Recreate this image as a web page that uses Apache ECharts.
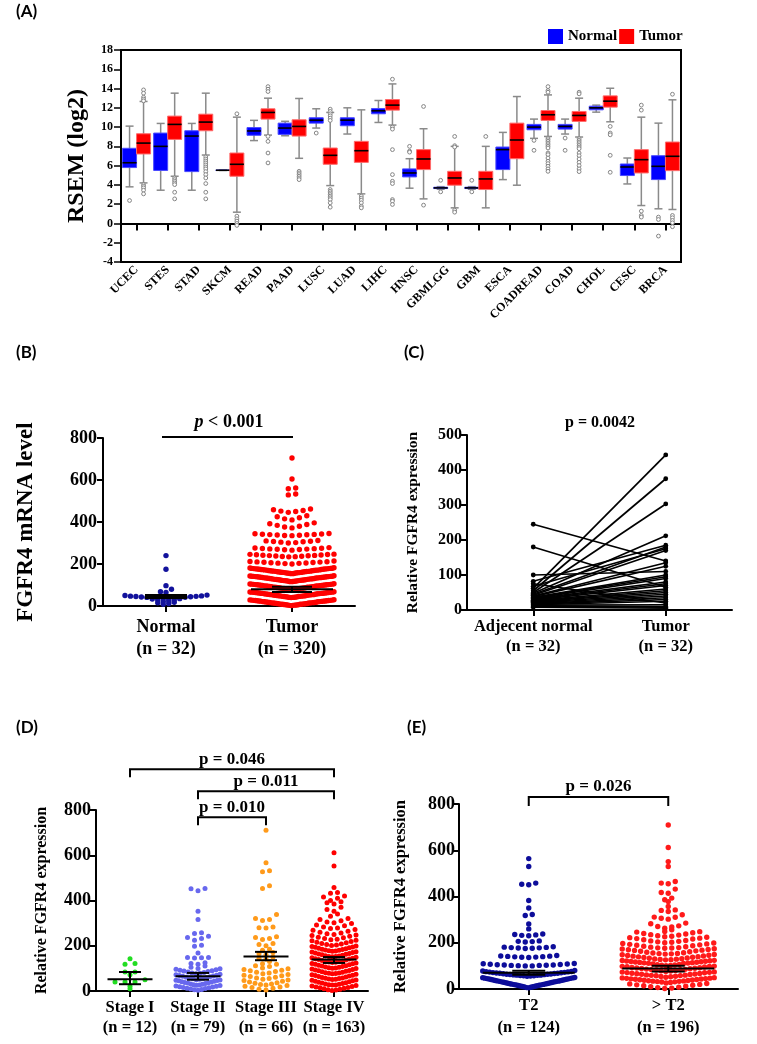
<!DOCTYPE html>
<html><head><meta charset="utf-8">
<script src="https://cdn.jsdelivr.net/npm/echarts@6/dist/echarts.min.js"></script>
<style>html,body{margin:0;padding:0;background:#fff}#c{width:757px;height:1044px}</style>
</head><body><div id="c"></div>
<script>
// ================= DATA =================
// ---- Panel A : box plots (RSEM log2) ----
const aCategories = ['UCEC','STES','STAD','SKCM','READ','PAAD','LUSC','LUAD','LIHC','HNSC','GBMLGG','GBM','ESCA','COADREAD','COAD','CHOL','CESC','BRCA'];
// [lower whisker, Q1, median, Q3, upper whisker]
const aNormalBox = [
  [3.8, 5.8, 6.3, 7.8, 10.1],
  [3.45, 5.5, 8.0, 9.38, 10.38],
  [3.45, 5.38, 9.07, 9.62, 10.38],
  [5.5, 5.5, 5.52, 5.55, 5.55],
  [8.6, 9.15, 9.6, 9.95, 10.7],
  [9.1, 9.24, 9.9, 10.41, 10.6],
  [9.9, 10.41, 10.72, 10.97, 11.9],
  [9.28, 10.14, 10.72, 10.97, 12.0],
  [10.48, 11.38, 11.69, 11.93, 12.76],
  [3.66, 4.83, 5.24, 5.66, 6.72],
  [3.55, 3.62, 3.69, 3.76, 3.82],
  [3.55, 3.62, 3.69, 3.76, 3.82],
  [4.55, 5.59, 7.66, 7.93, 9.45],
  [8.83, 9.72, 10.0, 10.28, 10.83],
  [9.28, 9.79, 10.07, 10.28, 10.83],
  [11.55, 11.79, 12.0, 12.17, 12.28],
  [4.1, 4.97, 5.86, 6.17, 6.79],
  [1.52, 4.55, 5.93, 7.03, 10.41]
];
const aTumorBox = [
  [4.21, 7.21, 8.34, 9.31, 12.66],
  [4.9, 8.72, 10.28, 11.14, 13.52],
  [7.1, 9.62, 10.52, 11.34, 13.52],
  [1.17, 4.9, 6.14, 7.31, 11.03],
  [9.17, 10.83, 11.52, 11.9, 13.0],
  [6.76, 9.07, 10.07, 10.76, 12.97],
  [3.93, 6.14, 7.07, 7.83, 11.52],
  [3.07, 6.34, 7.55, 8.52, 11.79],
  [10.21, 11.76, 12.28, 12.86, 14.48],
  [2.55, 5.59, 6.69, 7.66, 9.83],
  [1.62, 3.97, 4.72, 5.41, 8.0],
  [1.62, 3.52, 4.62, 5.41, 8.0],
  [3.97, 6.72, 8.66, 10.41, 13.17],
  [9.03, 10.69, 11.28, 11.72, 13.34],
  [8.97, 10.59, 11.21, 11.62, 13.0],
  [10.55, 12.07, 12.69, 13.24, 14.03],
  [1.86, 5.24, 6.62, 7.66, 11.03],
  [1.45, 5.48, 6.97, 8.45, 12.83]
];
const aNormalOutliers = [[2.38],[],[],[],[],[],[9.38],[],[],[8.0,7.5,7.4],[4.48,3.28],[4.48,3.28],[],[8.62,7.59],[8.86,7.59],[],[],[0.66,0.41,-1.31]];
const aTumorOutliers = [
  [13.86,13.52,13.1,12.9,12.72,4.03,3.86,3.69,3.45,3.07],
  [4.72,4.55,4.38,4.2,4.03,3.24,2.55],
  [6.9,6.69,6.48,6.28,6.07,5.86,5.66,5.38,5.07,4.72,4.14,3.24,2.55],
  [11.38,0.76,0.48,0.24,0.0,-0.2],
  [14.2,13.93,13.69,9.03,8.52,7.31,6.28],
  [5.41,5.24,5.07,4.9,4.72,4.55],
  [11.86,11.62,11.38,11.17,10.93,10.69,3.52,3.34,3.17,3.0,2.83,2.66,2.48,2.14,1.69],
  [2.83,2.62,2.41,2.14,1.79,1.62],
  [14.97,10.0,9.79,7.66,5.07,4.38,4.14,2.48,2.31,1.97],
  [12.14,1.9],
  [9.03,8.07,7.93,1.38,1.17],
  [9.03],
  [],
  [14.2,13.79,13.62,8.86,8.69,8.52,8.34,8.17,8.0,7.83,7.31,7.14,6.79,6.45,6.21,5.93,5.66,5.41],
  [13.62,13.45,8.79,8.62,8.45,8.28,8.1,7.93,7.76,7.31,7.03,6.69,6.34,6.0,5.66,5.38],
  [10.07,9.38,9.2,7.07,5.31],
  [12.28,11.76,1.28,0.83,0.66],
  [13.41,0.83,0.59,0.31,0.07,-0.34]
];

// ---- Panel B : FGFR4 mRNA level (values grouped in the rows of the dot plot) ----
const bCategories = ['Normal\n(n = 32)', 'Tumor\n(n = 320)'];
const bNormalRows = [[240],[175],[97],[64,68,80],
  [36,37,38,39,40,40,41,42,43,44,45,46,47,48,50,52],
  [22,25,28,30,33,35],[8,12,15,18]];
const bTumorRows = [[705],[605],[558,562],[529,533],[446,450,452,455,458,462],[410,415,420,425,430],
  [372,376,380,384,388,392,396],
  [335,336,337,338,339,340,341,342,343,344,345],
  [300,302,304,306,307,308,310,312],
  [266,268,269,270,271,272,273,274,275,276,278],
  [234,235,236,237,238,239,240,241,242,243,244,245,246,247],
  [200,202,203,204,205,206,207,208,209,210,211,212,214],
  [154,155,155,156,157,157,158,159,159,160,160,161,162,162,163,163,164,165,165,166,166,167,168,168,169,169,170,171,171,172,172,173,174,174,175,175,176,176,177,177,178,178,179,179,180,181,182],
  [116,117,117,118,119,119,120,121,121,122,122,123,124,124,125,125,126,127,127,128,128,129,130,130,131,131,132,133,133,134,134,135,136,136,137,137,138,138,139,139,140,140,141,141,142,142,143,144],
  [78,79,79,80,81,81,82,82,83,84,84,85,86,86,87,87,88,89,89,90,90,91,92,92,93,93,94,95,95,96,96,97,98,98,99,99,100,100,101,101,102,102,103,103,104,104,105,106],
  [40,41,41,42,43,43,44,45,45,46,46,47,48,48,49,49,50,51,51,52,52,53,54,54,55,55,56,57,57,58,58,59,60,60,61,61,62,62,63,63,64,64,65,65,66,66,67,68],
  [2,3,3,4,5,5,6,6,7,8,8,9,9,10,11,11,12,12,13,14,14,15,15,16,17,17,18,18,19,20,20,21,21,22,23,23,24,24,25,25,26,26,27,27,28,28,29,30]
];
// [category, centre line, lower bar, upper bar]
const bSummary = [[0, 44, 38, 52], [1, 80, 67, 92]];
const bBrackets = [[0, 1, 805]];
const bBracketText = ['{i|p} < 0.001'];

// ---- Panel C : paired samples ----
const cCategories = ['Adjecent normal\n(n = 32)', 'Tumor\n(n = 32)'];
const cNormal = [245,180,100,82,75,68,62,55,50,48,45,42,40,38,36,35,33,32,30,28,27,25,24,22,20,18,17,15,14,12,10,8];
const cTumor  = [140,65,110,185,20,175,443,375,303,212,180,170,135,125,100,95,90,80,75,70,60,55,50,45,40,35,30,25,15,10,8,5];

// ---- Panel D : stages ----
const dCategories = ['Stage I\n(n = 12)', 'Stage II\n(n = 79)', 'Stage III\n(n = 66)', 'Stage IV\n(n = 163)'];
const dStage1Rows = [[10],[21],[40,40,40,50],[72],[84,84],[118,121],[143]];
const dStage2Rows = [[443,452,453],[353],[316],[254,258],[224,232,236,242],[198,202],[168],[146,147,148,148],[118,121,125],[100,105,110],
  [76,78,80,82,84,86,88,90,92,94,96,98],
  [50,52,54,55,57,59,61,63,65,66,68,70,72,74],
  [25,27,28,30,31,33,35,36,38,40,41,43,45,46,48,49],
  [3,5,7,9,11,12,14,16,18,19,21,22,24]];
const dStage3Rows = [[711],[567],[527,531],[453,465],[312,316,320,338],[278,280,283],[228,232,236,240],[200,205,210],[180,185],[160,165,170],[140,145,150],[120,130],
  [102,108,112,118],
  [76,80,83,86,89,92,95,98],
  [52,55,58,61,64,67,70,73],
  [26,29,31,34,37,40,43,46,49],
  [4,8,12,15,18,21,24]];
const dStage4Rows = [[611],[552],[457],[432,435],[400,410,415,420],[385,390,395],[352,360,370],[330,340],[302,305,310,316,320],[276,279,283,288,292,298],
  [250,253,256,260,264,268,272],
  [226,229,232,235,238,242,245,248],
  [201,203,205,208,210,213,216,219,222,224],
  [176,177,178,180,181,183,185,187,189,191,193,195,197,199],
  [151,152,153,155,156,158,160,162,164,166,168,170,172,174],
  [126,127,128,130,131,133,135,137,139,141,143,145,147,149],
  [101,102,103,105,106,108,110,112,114,116,118,120,122,124],
  [76,77,78,80,81,83,85,87,89,91,93,95,97,99],
  [51,52,53,55,56,58,60,62,64,66,68,70,72,74],
  [26,27,28,30,31,33,35,37,39,41,43,45,47,49],
  [2,4,6,8,10,12,14,16,18,20,22,24]];
const dSummary = [[0, 52, 30, 84], [1, 65, 50, 80], [2, 153, 136, 173], [3, 139, 124, 150]];
const dBrackets = [[0, 3, 980], [1, 3, 883], [1, 2, 768]];
const dBracketText = ['p = 0.046', 'p = 0.011', 'p = 0.010'];

// ---- Panel E : T stage ----
const eCategories = ['T2\n(n = 124)', '> T2\n(n = 196)'];
const eT2Rows = [[564],[530],[451,453,458],[383],[350],[318,322],[281],[260],[230,232,234,236,238],[203,205,206,208],
  [175,176,177,178,179,180,181,183],
  [136,137,138,139,140,141,142,143,145],
  [100,100,101,102,102,103,104,104,105,106,107,108,109,110],
  [55,56,57,57,58,59,60,60,61,62,63,64,64,65,66,67,68,68,69,70,71,72,73,74,75,76,78,80],
  [5,6,8,9,10,11,12,13,14,15,16,17,18,19,20,21,22,23,24,25,26,27,28,29,30,31,32,33,34,35,36,37,38,39,40,41,42,43,44,45,46,47,48,49,50]];
const eAboveT2Rows = [[709],[612],[551],[530],[455,458,465],[414,417,432],[386,393],[378],[357],[335,340,342],[302,306,310,311,321],[263,268,270,273,282,285],[249,256],
  [226,228,230,233,235,238,240,243,246,248],
  [200,202,204,206,208,210,213,216,218,220,222,224],
  [176,177,178,179,181,183,185,187,189,191,193,195,197,199],
  [151,152,153,154,156,157,159,161,163,165,167,168,170,171,173,174],
  [126,127,128,129,130,131,133,134,136,137,139,140,142,143,145,146,148,149],
  [101,102,103,104,105,106,108,110,111,112,113,114,115,116,117,118,119,120,121,122,123,124],
  [76,78,79,80,82,83,84,85,86,88,89,90,91,92,93,95,96,97,98,99],
  [51,53,54,55,57,58,59,60,61,63,64,65,66,67,68,70,71,72,73,74],
  [26,28,30,31,32,33,34,35,36,37,38,39,40,41,42,43,44,45,46,47,48,49],
  [2,4,6,8,10,12,14,16,18,20,22,24]];
const eSummary = [[0, 70, 62, 79], [1, 89, 76, 101]];
const eBrackets = [[0, 1, 830]];
const eBracketText = ['p = 0.026'];

// ================= HELPERS =================
const SERIF = '"Liberation Serif", "Times New Roman", serif';
const chart = echarts.init(document.getElementById('c'), null, {renderer: 'canvas'});

// GraphPad-like dot layout: each row spread horizontally, lowest value in the middle
function rowLayout(rows, cat, spacing, maxW) {
  const out = [];
  rows.forEach(row => {
    const arr = row.slice().sort((a, b) => a - b);
    const n = arr.length;
    const s = n > 1 ? Math.min(spacing, maxW / (n - 1)) : 0;
    const slots = [];
    for (let j = 0; j < n; j++) slots.push((j - (n - 1) / 2) * s);
    slots.sort((a, b) => (Math.abs(a) - Math.abs(b)) || (a - b));
    arr.forEach((v, i) => out.push([cat, v, slots[i]]));
  });
  return out;
}
function dotSeries(gi, cat, rows, color, r, spacing, maxW) {
  return {
    type: 'custom', xAxisIndex: gi, yAxisIndex: gi, silent: true, z: 2,
    encode: {x: 0, y: 1},
    data: rowLayout(rows, cat, spacing, maxW),
    renderItem(params, api) {
      const p = api.coord([api.value(0), api.value(1)]);
      return {type: 'circle', shape: {cx: p[0] + api.value(2), cy: p[1], r: r}, style: {fill: color}};
    }
  };
}
function summarySeries(gi, data, meanW, capW) {
  return {
    type: 'custom', xAxisIndex: gi, yAxisIndex: gi, silent: true, z: 5,
    encode: {x: 0, y: [1, 2, 3]},
    data: data,
    renderItem(params, api) {
      const c = api.value(0);
      const pc = api.coord([c, api.value(1)]);
      const lo = api.coord([c, api.value(2)])[1];
      const hi = api.coord([c, api.value(3)])[1];
      const mw = (Array.isArray(meanW) ? meanW[params.dataIndex] : meanW) / 2;
      const cw = (Array.isArray(capW) ? capW[params.dataIndex] : capW) / 2;
      const st = {stroke: '#000', lineWidth: 2};
      return {type: 'group', children: [
        {type: 'line', shape: {x1: pc[0] - mw, y1: pc[1], x2: pc[0] + mw, y2: pc[1]}, style: st},
        {type: 'line', shape: {x1: pc[0], y1: lo, x2: pc[0], y2: hi}, style: st},
        {type: 'line', shape: {x1: pc[0] - cw, y1: lo, x2: pc[0] + cw, y2: lo}, style: st},
        {type: 'line', shape: {x1: pc[0] - cw, y1: hi, x2: pc[0] + cw, y2: hi}, style: st}
      ]};
    }
  };
}
function bracketSeries(gi, data, texts, leg, gap, fontSize) {
  return {
    type: 'custom', xAxisIndex: gi, yAxisIndex: gi, silent: true, clip: false, z: 6,
    encode: {x: [0, 1], y: 2},
    data: data,
    renderItem(params, api) {
      const p1 = api.coord([api.value(0), api.value(2)]);
      const p2 = api.coord([api.value(1), api.value(2)]);
      const pts = leg > 0
        ? [[p1[0], p1[1] + leg], [p1[0], p1[1]], [p2[0], p2[1]], [p2[0], p2[1] + leg]]
        : [[p1[0] - 4, p1[1]], [p2[0] + 1, p2[1]]];
      return {type: 'group', children: [
        {type: 'polyline', shape: {points: pts}, style: {stroke: '#000', lineWidth: 2, fill: null}},
        {type: 'text', x: (p1[0] + p2[0]) / 2, y: p1[1] - gap, style: {
          text: texts[params.dataIndex], fill: '#000',
          fontFamily: SERIF, fontWeight: 'bold', fontSize: fontSize,
          align: 'center', verticalAlign: 'middle', textAlign: 'center', textVerticalAlign: 'middle',
          rich: {i: {fontStyle: 'italic', fontWeight: 'bold', fontFamily: SERIF, fontSize: fontSize, fill: '#000'}}
        }}
      ]};
    }
  };
}
const BOX_W = 14, CAP_W = 8;
function boxSeries(name, boxes, color, stroke, offset) {
  return {
    name: name, type: 'custom', xAxisIndex: 0, yAxisIndex: 0, z: 3,
    itemStyle: {color: color},
    encode: {x: 0, y: [1, 2, 3, 4, 5]},
    data: boxes.map((b, i) => [i].concat(b)),
    renderItem(params, api) {
      const c = api.value(0);
      const x = api.coord([c, 0])[0] + offset;
      const y = k => api.coord([c, api.value(k)])[1];
      const yMin = y(1), yQ1 = y(2), yMed = y(3), yQ3 = y(4), yMax = y(5);
      const hw = BOX_W / 2, cw = CAP_W / 2;
      const ws = {stroke: '#8a8a8a', lineWidth: 1.5};
      return {type: 'group', children: [
        {type: 'line', shape: {x1: x, y1: yMax, x2: x, y2: yMin}, style: ws},
        {type: 'line', shape: {x1: x - cw, y1: yMax, x2: x + cw, y2: yMax}, style: ws},
        {type: 'line', shape: {x1: x - cw, y1: yMin, x2: x + cw, y2: yMin}, style: ws},
        {type: 'rect', shape: {x: x - hw, y: yQ3, width: BOX_W, height: Math.max(yQ1 - yQ3, 0)}, style: {fill: color, stroke: stroke, lineWidth: 1}},
        {type: 'line', shape: {x1: x - hw, y1: yMed, x2: x + hw, y2: yMed}, style: {stroke: '#000', lineWidth: 1.6}}
      ]};
    }
  };
}
function outlierSeries(list, offset) {
  return {
    type: 'custom', xAxisIndex: 0, yAxisIndex: 0, silent: true, z: 4,
    encode: {x: 0, y: 1},
    data: list.flatMap((arr, i) => arr.map(v => [i, v])),
    renderItem(params, api) {
      const p = api.coord([api.value(0), api.value(1)]);
      return {type: 'circle', shape: {cx: p[0] + offset, cy: p[1], r: 1.9}, style: {fill: '#fff', stroke: '#858585', lineWidth: 1}};
    }
  };
}
function pairSeries(gi, a, b) {
  return {
    type: 'custom', xAxisIndex: gi, yAxisIndex: gi, silent: true,
    encode: {x: [0, 2], y: [1, 3]},
    data: a.map((v, i) => [0, v, 1, b[i]]),
    renderItem(params, api) {
      const p1 = api.coord([api.value(0), api.value(1)]);
      const p2 = api.coord([api.value(2), api.value(3)]);
      return {type: 'group', children: [
        {type: 'line', shape: {x1: p1[0], y1: p1[1], x2: p2[0], y2: p2[1]}, style: {stroke: '#000', lineWidth: 1.7}},
        {type: 'circle', shape: {cx: p1[0], cy: p1[1], r: 2.4}, style: {fill: '#000'}},
        {type: 'circle', shape: {cx: p2[0], cy: p2[1], r: 2.4}, style: {fill: '#000'}}
      ]};
    }
  };
}
function font(size) { return {fontFamily: SERIF, fontWeight: 'bold', fontSize: size, color: '#000'}; }
function yAx(gi, min, max, interval, labelSize, margin, name, nameSize, nameGap) {
  return {
    gridIndex: gi, type: 'value', min: min, max: max, interval: interval,
    axisLine: {show: true, lineStyle: {color: '#000', width: 2}},
    axisTick: {show: true, length: 6, lineStyle: {color: '#000', width: 2}},
    axisLabel: Object.assign(font(labelSize), {margin: margin}),
    splitLine: {show: false},
    name: name, nameLocation: 'middle', nameGap: nameGap, nameRotate: 90,
    nameTextStyle: font(nameSize)
  };
}
function xAx(gi, data, labelSize, lineHeight, margin) {
  return {
    gridIndex: gi, type: 'category', data: data, boundaryGap: true,
    axisLine: {show: true, lineStyle: {color: '#000', width: 2}},
    axisTick: {show: true, alignWithLabel: true, length: 6, lineStyle: {color: '#000', width: 2}},
    axisLabel: Object.assign(font(labelSize), {margin: margin, lineHeight: lineHeight, interval: 0}),
    splitLine: {show: false}
  };
}

// ================= OPTION =================
const xA = xAx(0, aCategories, 12, 14, 6);
xA.axisTick.length = 7;
xA.axisLabel.rotate = 45;
const yA = yAx(0, -4, 18, 2, 12, 8, 'RSEM (log2)', 24, 32);
yA.axisTick.length = 7;
yA.axisTick.lineStyle.width = 1.5;

const option = {
  animation: false,
  backgroundColor: '#fff',
  legend: {
    left: 548, top: 29, padding: 0, itemWidth: 15, itemHeight: 15, itemGap: 2, icon: 'rect',
    textStyle: font(15),
    data: [{name: 'Normal', itemStyle: {color: '#0000ff'}}, {name: 'Tumor', itemStyle: {color: '#ff0000'}}]
  },
  grid: [
    {left: 121, top: 50, width: 560, height: 212, show: true, borderColor: '#000', borderWidth: 2},
    {left: 103, top: 438, width: 252, height: 168},
    {left: 467, top: 435, width: 265, height: 175},
    {left: 96, top: 810, width: 272, height: 181},
    {left: 459, top: 804, width: 279, height: 185}
  ],
  xAxis: [
    xA,
    xAx(1, bCategories, 18, 22, 10),
    xAx(2, cCategories, 16.5, 20, 7),
    xAx(3, dCategories, 16.5, 20, 7),
    xAx(4, eCategories, 16.5, 22, 6)
  ],
  yAxis: [
    yA,
    yAx(1, 0, 800, 200, 18, 6, 'FGFR4 mRNA level', 23, 65),
    yAx(2, 0, 500, 100, 16, 5, 'Relative FGFR4 expression', 15.5, 46),
    yAx(3, 0, 800, 200, 18, 5, 'Relative FGFR4 expression', 16, 46),
    yAx(4, 0, 800, 200, 18, 4, 'Relative FGFR4 expression', 16.5, 50)
  ],
  graphic: [
    {type: 'text', left: 16, top: 3, style: {text: '(A)', font: 'bold 17px Lato', fill: '#000'}},
    {type: 'text', left: 16, top: 344, style: {text: '(B)', font: 'bold 17px Lato', fill: '#000'}},
    {type: 'text', left: 404, top: 344, style: {text: '(C)', font: 'bold 17px Lato', fill: '#000'}},
    {type: 'text', left: 16, top: 719, style: {text: '(D)', font: 'bold 17px Lato', fill: '#000'}},
    {type: 'text', left: 407, top: 719, style: {text: '(E)', font: 'bold 17px Lato', fill: '#000'}},
    {type: 'text', x: 600, y: 423, style: {text: 'p = 0.0042', fill: '#000', font: 'bold 16px "Liberation Serif"',
      align: 'center', verticalAlign: 'middle', textAlign: 'center', textVerticalAlign: 'middle'}}
  ],
  series: [
    // A
    boxSeries('Normal', aNormalBox, '#0000ff', '#4a4aff', -7),
    boxSeries('Tumor', aTumorBox, '#ff0000', '#ff6a6a', 7),
    outlierSeries(aNormalOutliers, -7),
    outlierSeries(aTumorOutliers, 7),
    // B
    dotSeries(1, 0, bNormalRows, '#12129c', 2.7, 5.5, 82),
    dotSeries(1, 1, bTumorRows, '#ff0000', 2.7, 7.4, 84),
    summarySeries(1, bSummary, [42, 82], [42, 40]),
    bracketSeries(1, bBrackets, bBracketText, 0, 15, 18),
    // C
    pairSeries(2, cNormal, cTumor),
    // D
    dotSeries(3, 0, dStage1Rows, '#22dd22', 2.5, 10, 44),
    dotSeries(3, 1, dStage2Rows, '#6868ee', 2.5, 7, 44),
    dotSeries(3, 2, dStage3Rows, '#ff9a1a', 2.5, 7, 44),
    dotSeries(3, 3, dStage4Rows, '#ff0000', 2.5, 7, 44),
    summarySeries(3, dSummary, 45, 22),
    bracketSeries(3, dBrackets, dBracketText, 8, 10, 17),
    // E
    dotSeries(4, 0, eT2Rows, '#0d0d9a', 2.7, 7, 92),
    dotSeries(4, 1, eAboveT2Rows, '#ff1a1a', 2.7, 7, 92),
    summarySeries(4, eSummary, 92, 33),
    bracketSeries(4, eBrackets, eBracketText, 9, 10, 17)
  ]
};
chart.setOption(option);
</script>
</body></html>
